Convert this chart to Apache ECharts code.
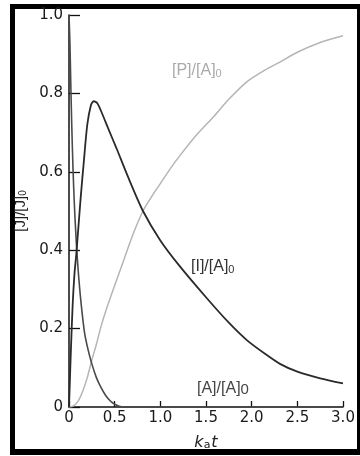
<!DOCTYPE html>
<html>
<head>
<meta charset="utf-8">
<script src="https://cdn.jsdelivr.net/npm/echarts@6/dist/echarts.min.js"></script>
<style>
  html, body { margin: 0; padding: 0; background: #fff; }
  #frame { position: absolute; left: 10px; top: 4px; width: 342px; height: 440px;
           border-left: 5px solid #000; border-top: 5px solid #000;
           border-right: 3px solid #000; border-bottom: 6px solid #000; }
  #chart { position: absolute; left: 0; top: 0; width: 360px; height: 456px; }
</style>
</head>
<body>
<div id="frame"></div>
<div id="chart"></div>
<script>
// Consecutive reaction A -> I -> P: relative concentrations vs. k_a t
const xTicks = ['0', '0.5', '1.0', '1.5', '2.0', '2.5', '3.0'];
const yTicks = ['0', '0.2', '0.4', '0.6', '0.8', '1.0'];

// [A]/[A]0
const aTime = [0, 0.01, 0.02, 0.03, 0.045, 0.06, 0.08, 0.1, 0.13, 0.17, 0.21, 0.25, 0.3, 0.35, 0.4, 0.45, 0.5, 0.55, 0.6, 1.0, 1.5, 2.0, 2.5, 3.0];
const aConc = [1.0, 0.93, 0.82, 0.72, 0.6, 0.51, 0.42, 0.35, 0.27, 0.19, 0.145, 0.11, 0.075, 0.05, 0.03, 0.016, 0.007, 0.002, 0, 0, 0, 0, 0, 0];

// [I]/[A]0
const iTime = [0, 0.01, 0.02, 0.04, 0.06, 0.08, 0.1, 0.13, 0.16, 0.2, 0.24, 0.27, 0.31, 0.36, 0.43, 0.52, 0.65, 0.81, 1.0, 1.21, 1.5, 1.75, 1.95, 2.15, 2.31, 2.5, 2.75, 3.0];
const iConc = [0, 0.07, 0.14, 0.26, 0.34, 0.39, 0.45, 0.54, 0.62, 0.72, 0.77, 0.78, 0.775, 0.75, 0.71, 0.66, 0.585, 0.50, 0.425, 0.36, 0.28, 0.215, 0.17, 0.135, 0.11, 0.09, 0.073, 0.06];

// [P]/[A]0
const pTime = [0, 0.05, 0.1, 0.15, 0.2, 0.25, 0.3, 0.35, 0.41, 0.5, 0.6, 0.7, 0.81, 0.9, 1.0, 1.1, 1.21, 1.4, 1.58, 1.75, 1.95, 2.15, 2.31, 2.5, 2.75, 3.0];
const pConc = [0, 0.003, 0.015, 0.04, 0.075, 0.12, 0.16, 0.205, 0.25, 0.31, 0.375, 0.44, 0.50, 0.535, 0.57, 0.605, 0.64, 0.695, 0.74, 0.785, 0.83, 0.86, 0.88, 0.905, 0.93, 0.947];

const pairs = (xs, ys) => xs.map((x, k) => [x, ys[k]]);
const FONT = '"DejaVu Sans", "Liberation Sans", sans-serif';
const LFONT = '"Liberation Sans", Arial, sans-serif';

const chart = echarts.init(document.getElementById('chart'), null, { renderer: 'canvas' });

const lineSeries = (name, xs, ys, color, width) => ({
  name, type: 'line', data: pairs(xs, ys), showSymbol: false,
  smooth: 0.25,
  lineStyle: { color, width }, z: 3
});

const subText = (text, color, size, sub) => ({
  text, fontFamily: LFONT, fontSize: size, fill: color,
  rich: { s: { fontFamily: LFONT, fontSize: sub, fill: color, lineHeight: sub, verticalAlign: 'bottom' } }
});

chart.setOption({
  animation: false,
  backgroundColor: 'transparent',
  grid: { left: 69, right: 17, top: 15, bottom: 45 },
  xAxis: {
    type: 'value', min: 0, max: 3, interval: 0.5,
    name: '{it|k}{sub|a}{it|t}', nameLocation: 'middle', nameGap: 24,
    nameTextStyle: {
      rich: {
        it: { fontFamily: FONT, fontSize: 16, fontStyle: 'italic', color: '#222', lineHeight: 20, verticalAlign: 'bottom' },
        sub: { fontFamily: FONT, fontSize: 11, color: '#222', lineHeight: 10, verticalAlign: 'bottom', padding: [0, 1, 0, 0] }
      }
    },
    axisLine: { lineStyle: { color: '#111', width: 1.5 } },
    axisTick: { inside: true, length: 6, lineStyle: { color: '#111', width: 1.3 } },
    axisLabel: { formatter: (v) => xTicks[Math.round(v / 0.5)], fontFamily: FONT, fontSize: 15, color: '#1a1a1a', margin: 4 },
    splitLine: { show: false }
  },
  yAxis: {
    type: 'value', min: 0, max: 1, interval: 0.2,
    name: '{m|[J]/[J]}{s|0}', nameLocation: 'middle', nameGap: 34, nameRotate: 90,
    nameTextStyle: {
      rich: {
        m: { fontFamily: LFONT, fontSize: 15, color: '#222', lineHeight: 18, verticalAlign: 'bottom' },
        s: { fontFamily: LFONT, fontSize: 10, color: '#222', lineHeight: 9, verticalAlign: 'bottom' }
      }
    },
    axisLine: { lineStyle: { color: '#111', width: 1.5 } },
    axisTick: { inside: true, length: 11, lineStyle: { color: '#111', width: 1.3 } },
    axisLabel: { formatter: (v) => yTicks[Math.round(v / 0.2)], fontFamily: FONT, fontSize: 15, color: '#1a1a1a', margin: 6 },
    splitLine: { show: false }
  },
  series: [
    lineSeries('P', pTime, pConc, '#b5b5b5', 1.5),
    lineSeries('A', aTime, aConc, '#4a4a4a', 1.6),
    lineSeries('I', iTime, iConc, '#2a2a2a', 1.8)
  ],
  graphic: [
    { type: 'text', left: 172, top: 63, style: subText('[P]/[A]{s|0}', '#aaaaaa', 16, 11) },
    { type: 'text', left: 191, top: 259, style: subText('[I]/[A]{s|0}', '#333333', 16, 11) },
    { type: 'text', left: 197, top: 381, style: subText('[A]/[A]{s|0}', '#444444', 16, 15) }
  ]
});
</script>
</body>
</html>
